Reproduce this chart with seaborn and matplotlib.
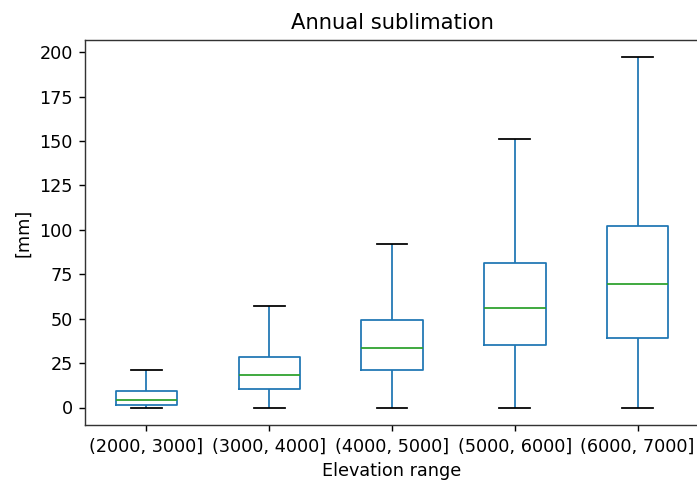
import numpy as np
import pandas as pd
import matplotlib
matplotlib.use("Agg")
import matplotlib.pyplot as plt
import seaborn as sns

# elevation bins and box stats [mm]
ranges = ["(2000, 3000]", "(3000, 4000]", "(4000, 5000]", "(5000, 6000]", "(6000, 7000]"]
mins = [0.0, 0.0, 0.0, 0.0, 0.0]
q1s = [1.5, 10.2, 21.3, 35.0, 39.2]
meds = [4.5, 18.3, 33.3, 56.1, 69.3]
q3s = [9.2, 28.4, 49.5, 81.2, 102.3]
maxs = [21.3, 56.9, 91.9, 151.2, 197.0]

# long form table, 5 values per bin so quartiles land on the read values
rows = []
for i, r in enumerate(ranges):
    for v in [mins[i], q1s[i], meds[i], q3s[i], maxs[i]]:
        rows.append({"Elevation range": r, "sub": v})
df = pd.DataFrame(rows)

s = 1.27  # original looks rendered bigger then shrunk
plt.rcParams["axes.linewidth"] = 0.8 * s
plt.rcParams["axes.edgecolor"] = "#333333"

fig = plt.figure(figsize=(6.97, 4.8), dpi=100)
ax = fig.add_axes([85 / 697, 55 / 480, 614 / 697, 385 / 480])

sns.boxplot(data=df, x="Elevation range", y="sub", order=ranges, ax=ax,
            whis=(0, 100), width=0.5, fill=False, color="#1f77b4",
            linewidth=1.0 * s, showfliers=False,
            boxprops=dict(color="#1f77b4"),
            whiskerprops=dict(color="#1f77b4"),
            capprops=dict(color="black"),
            medianprops=dict(color="#2ca02c"))

# caps are half the box width like pandas
for line in ax.lines:
    xd = line.get_xdata()
    if line.get_color() == "black" and len(xd) == 2:
        c = (xd[0] + xd[1]) / 2
        line.set_xdata([c - 0.125, c + 0.125])

ax.set_xlim(-0.5, 4.5)
ax.set_ylim(-9.85, 206.85)
ax.set_yticks([0, 25, 50, 75, 100, 125, 150, 175, 200])
ax.set_title("Annual sublimation", fontsize=12 * s, pad=6 * s)
ax.set_xlabel("Elevation range", fontsize=10 * s, labelpad=4 * s)
ax.set_ylabel("[mm]", fontsize=10 * s, labelpad=4 * s)
ax.tick_params(labelsize=10 * s, length=3.5 * s, width=0.8 * s, pad=3.5 * s)

fig.savefig("out.png", dpi=100)
